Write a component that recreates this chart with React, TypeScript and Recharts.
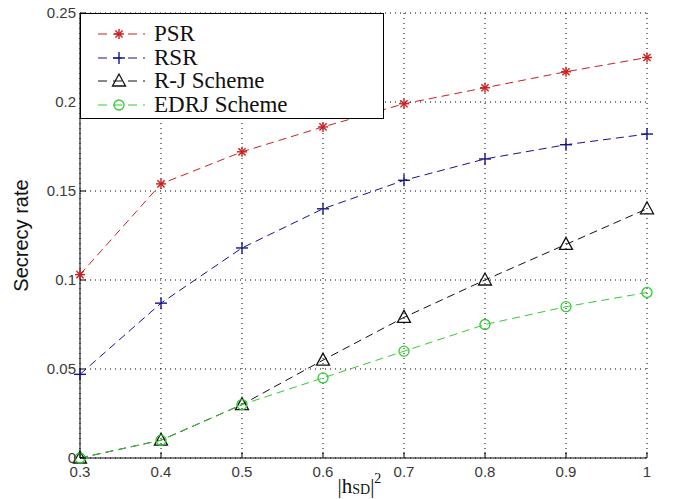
import { LineChart, Line, XAxis, YAxis, CartesianGrid } from 'recharts'

// |h_SD|^2 values on the x axis
const hsd = [0.3, 0.4, 0.5, 0.6, 0.7, 0.8, 0.9, 1]
const psr = [0.103, 0.154, 0.172, 0.186, 0.199, 0.208, 0.217, 0.225]
const rsr = [0.047, 0.087, 0.118, 0.14, 0.156, 0.168, 0.176, 0.182]
const rj = [0, 0.01, 0.03, 0.055, 0.079, 0.1, 0.12, 0.14]
const edrj = [0, 0.01, 0.03, 0.045, 0.06, 0.075, 0.085, 0.093]

const xTicks = [0.3, 0.4, 0.5, 0.6, 0.7, 0.8, 0.9, 1]
const yTicks = [0, 0.05, 0.1, 0.15, 0.2, 0.25]

const data = hsd.map((x, i) => ({ x, psr: psr[i], rsr: rsr[i], rj: rj[i], edrj: edrj[i] }))

const W = 676
const H = 499
const TICK_FONT = '"Liberation Sans", Arial, sans-serif'
const SERIF = '"Liberation Serif", "Times New Roman", serif'
const DASH = '8 5'

type Marker = 'star' | 'plus' | 'triangle' | 'circle'

const series: { key: string; name: string; color: string; marker: Marker }[] = [
  { key: 'psr', name: 'PSR', color: '#cc1f1f', marker: 'star' },
  { key: 'rsr', name: 'RSR', color: '#14148c', marker: 'plus' },
  { key: 'rj', name: 'R-J Scheme', color: '#111111', marker: 'triangle' },
  { key: 'edrj', name: 'EDRJ Scheme', color: '#33cc33', marker: 'circle' },
]

function MarkerShape({ cx, cy, kind, color }: { cx: number; cy: number; kind: Marker; color: string }) {
  if (kind === 'star') {
    const s = 5
    const d = 3.6
    return (
      <g stroke={color} strokeWidth={1.4}>
        <line x1={cx - s} y1={cy} x2={cx + s} y2={cy} />
        <line x1={cx} y1={cy - s} x2={cx} y2={cy + s} />
        <line x1={cx - d} y1={cy - d} x2={cx + d} y2={cy + d} />
        <line x1={cx - d} y1={cy + d} x2={cx + d} y2={cy - d} />
      </g>
    )
  }
  if (kind === 'plus') {
    const s = 6
    return (
      <g stroke={color} strokeWidth={1.4}>
        <line x1={cx - s} y1={cy} x2={cx + s} y2={cy} />
        <line x1={cx} y1={cy - s} x2={cx} y2={cy + s} />
      </g>
    )
  }
  if (kind === 'triangle') {
    return (
      <polygon
        points={`${cx},${cy - 7} ${cx - 6.5},${cy + 5} ${cx + 6.5},${cy + 5}`}
        fill="none"
        stroke={color}
        strokeWidth={1.3}
      />
    )
  }
  return <circle cx={cx} cy={cy} r={5} fill="none" stroke={color} strokeWidth={1.3} />
}

function makeDot(kind: Marker, color: string) {
  return (props: any) => {
    const { cx, cy, index } = props
    if (cx == null || cy == null) return <g key={index} />
    return <MarkerShape key={index} cx={cx} cy={cy} kind={kind} color={color} />
  }
}

/* ---------- axis ticks (MATLAB style: tick marks point inward) ---------- */

function BottomTick(props: any) {
  const { x, y, payload } = props
  return (
    <g>
      <line x1={x} y1={y} x2={x} y2={y - 6} stroke="#000" />
      <text x={x} y={y + 19} textAnchor="middle" fontFamily={TICK_FONT} fontSize={15} fill="#3a3a3a">
        {String(payload.value)}
      </text>
    </g>
  )
}

function LeftTick(props: any) {
  const { x, y, payload } = props
  return (
    <g>
      <line x1={x} y1={y} x2={x + 6} y2={y} stroke="#000" />
      <text x={x - 4} y={y + 5} textAnchor="end" fontFamily={TICK_FONT} fontSize={15} fill="#3a3a3a">
        {String(payload.value)}
      </text>
    </g>
  )
}

function TopTick(props: any) {
  const { x, y } = props
  return <line x1={x} y1={y} x2={x} y2={y + 6} stroke="#000" />
}

function RightTick(props: any) {
  const { x, y } = props
  return <line x1={x} y1={y} x2={x - 6} y2={y} stroke="#000" />
}

function XLabel(props: any) {
  const { viewBox } = props
  const cx = viewBox.x + viewBox.width / 2
  return (
    <text x={cx - 26} y={viewBox.y + 35} fontFamily={SERIF} fontSize={21} fill="#111">
      |h
      <tspan fontSize={14} dy={1}>SD</tspan>
      <tspan dy={-1}>|</tspan>
      <tspan fontSize={14} dy={-10}>2</tspan>
    </text>
  )
}

function YLabel(props: any) {
  const { viewBox } = props
  const cy = viewBox.y + viewBox.height / 2
  return (
    <text
      x={28}
      y={cy}
      transform={`rotate(-90, 28, ${cy})`}
      textAnchor="middle"
      fontFamily={TICK_FONT}
      fontSize={20}
      fill="#111"
    >
      Secrecy rate
    </text>
  )
}

function LegendBox() {
  return (
    <div
      style={{
        position: 'absolute',
        left: 80,
        top: 13,
        width: 304,
        height: 106,
        border: '1px solid #000',
        background: '#fff',
        boxSizing: 'border-box',
      }}
    >
      {series.map((s, i) => (
        <div key={s.key} style={{ position: 'absolute', left: 0, top: 8 + i * 23.7, height: 24, display: 'flex', alignItems: 'center' }}>
          <svg width={70} height={24} style={{ display: 'block' }}>
            <line x1={17} y1={12} x2={64} y2={12} stroke={s.color} strokeWidth={1} strokeDasharray="9 6" />
            <MarkerShape cx={38} cy={12} kind={s.marker} color={s.color} />
          </svg>
          <span style={{ fontFamily: SERIF, fontSize: 23, color: '#111', marginLeft: 3, lineHeight: '24px' }}>{s.name}</span>
        </div>
      ))}
    </div>
  )
}

export default function App() {
  return (
    <div style={{ position: 'absolute', left: 0, top: 0, width: W, height: H, background: '#fff' }}>
      <LineChart width={W} height={H} data={data} margin={{ top: 13, right: 29, bottom: 0, left: 0 }}>
        <CartesianGrid stroke="#000" strokeDasharray="1 4" />
        <XAxis
          dataKey="x"
          type="number"
          domain={[0.3, 1]}
          ticks={xTicks}
          height={41}
          tickSize={0}
          tickMargin={0}
          tickLine={false}
          axisLine={{ stroke: '#000' }}
          tick={<BottomTick />}
          interval={0}
          label={{ content: XLabel }}
        />
        <YAxis
          type="number"
          domain={[0, 0.25]}
          ticks={yTicks}
          width={80}
          tickSize={0}
          tickMargin={0}
          tickLine={false}
          axisLine={{ stroke: '#000' }}
          tick={<LeftTick />}
          interval={0}
          label={{ content: YLabel }}
        />
        <XAxis
          xAxisId="top"
          orientation="top"
          dataKey="x"
          type="number"
          domain={[0.3, 1]}
          ticks={xTicks}
          height={0}
          tickSize={0}
          tickMargin={0}
          tickLine={false}
          axisLine={{ stroke: '#000' }}
          tick={<TopTick />}
          interval={0}
        />
        <YAxis
          yAxisId="right"
          orientation="right"
          type="number"
          domain={[0, 0.25]}
          ticks={yTicks}
          width={0}
          tickSize={0}
          tickMargin={0}
          tickLine={false}
          axisLine={{ stroke: '#000' }}
          tick={<RightTick />}
          interval={0}
        />
        {/* invisible series so the mirrored top/right axes get a domain */}
        <Line
          xAxisId="top"
          yAxisId="right"
          dataKey="psr"
          stroke="none"
          dot={false}
          activeDot={false}
          legendType="none"
          isAnimationActive={false}
        />
        {series.map(s => (
          <Line
            key={s.key}
            type="linear"
            dataKey={s.key}
            name={s.name}
            stroke={s.color}
            strokeWidth={1}
            strokeDasharray={DASH}
            dot={makeDot(s.marker, s.color)}
            activeDot={false}
            isAnimationActive={false}
          />
        ))}
      </LineChart>
      <LegendBox />
    </div>
  )
}
